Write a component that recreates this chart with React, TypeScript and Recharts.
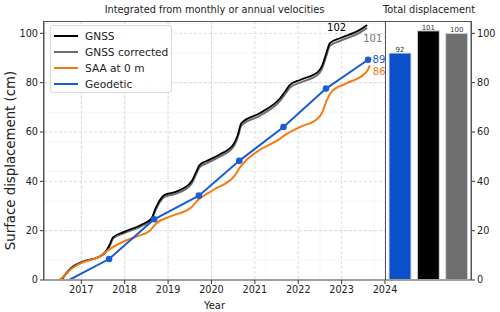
import React from 'react'
import { LineChart, Line, XAxis, YAxis, CartesianGrid, BarChart, Bar, Cell, LabelList } from 'recharts'

const FONT = '"DejaVu Sans", sans-serif'

const gnssYears = [2016.54, 2016.65, 2016.77, 2017.04, 2017.42, 2017.56, 2017.66, 2017.73, 2018.0, 2018.42, 2018.62, 2018.7, 2018.77, 2018.92, 2019.19, 2019.54, 2019.64, 2019.73, 2019.92, 2020.2, 2020.5, 2020.6, 2020.69, 2021.11, 2021.58, 2021.7, 2021.81, 2022.04, 2022.46, 2022.54, 2022.64, 2022.73, 2022.96, 2023.42, 2023.59]
const gnssValues = [0, 2.5, 4.7, 7.4, 9.5, 11.5, 14.5, 17.3, 19.6, 22.7, 25, 28.5, 31.1, 34.5, 35.8, 39.9, 43.5, 46.7, 48.5, 51, 54.8, 58.5, 63.6, 67.6, 73.7, 76.5, 79.1, 81.1, 84.5, 86.5, 91.5, 96, 98, 101.4, 103.4]
const gnssCorrValues = [0, 2.8, 5.1, 7.5, 9.5, 11.3, 14.1, 16.8, 19.1, 22.1, 24.4, 27.8, 30.4, 33.7, 35.0, 39.0, 42.6, 45.8, 47.6, 50.1, 53.8, 57.5, 62.6, 66.5, 72.6, 75.4, 78, 80, 83.4, 85.4, 90.4, 94.9, 96.9, 100.3, 102.2]

const saaYears = [2016.48, 2016.6, 2016.7, 2016.85, 2017.04, 2017.42, 2017.65, 2018.0, 2018.3, 2018.58, 2018.73, 2019.04, 2019.54, 2019.65, 2020.04, 2020.54, 2020.65, 2020.77, 2021.11, 2021.54, 2021.7, 2022.04, 2022.45, 2022.54, 2022.65, 2022.77, 2023.12, 2023.5, 2023.6, 2023.65]
const saaValues = [0, 1.5, 3.5, 5.5, 7.2, 9.5, 12.5, 15.8, 17.8, 20, 23, 25.7, 29.5, 31.8, 36.5, 42.4, 45.5, 48, 52.7, 56.8, 58.8, 62, 65.5, 67.5, 72.5, 76.4, 79.8, 83.2, 85, 87]

const geoYears = [2016.72, 2017.64, 2018.68, 2019.71, 2020.64, 2021.66, 2022.64, 2023.61]
const geoValues = [0, 8.5, 24.6, 34.2, 48.3, 62.0, 77.6, 89.3]

const yearTicks = [2017, 2018, 2019, 2020, 2021, 2022, 2023, 2024]
const valueTicks = [0, 20, 40, 60, 80, 100]

const seriesNames = ['GNSS', 'GNSS corrected', 'SAA at 0 m', 'Geodetic']
const seriesColors = ['#000000', '#6e6e6e', '#f47a12', '#1a5cd6']
const endLabels = ['102', '101', '86', '89']

const totalNames = ['Geodetic', 'GNSS', 'GNSS corrected']
const totalValues = [92, 101, 100]
const totalColors = ['#0b4fcb', '#000000', '#6e6e6e']

const toPoints = (xs: number[], ys: number[]) => xs.map((x, i) => ({ x, y: ys[i] }))
const gnssData = toPoints(gnssYears, gnssValues)
const gnssCorrData = toPoints(gnssYears, gnssCorrValues)
const saaData = toPoints(saaYears, saaValues)
const geoData = toPoints(geoYears, geoValues)
const totalData = totalNames.map((name, i) => ({ name, v: totalValues[i], color: totalColors[i] }))

const minorYears: number[] = []
for (let y = 2016.25; y < 2024; y += 0.25) minorYears.push(y)
const minorValues: number[] = []
for (let v = 4; v < 105; v += 4) minorValues.push(v)

const tickStyle = { fontSize: 9.7, fill: '#222', fontFamily: FONT }

// label only drawn next to the last point of a series
function endLabel(text: string, color: string, last: number, dx: number, dy: number, anchor: string) {
  return (props: any) => {
    if (props.index !== last) return <g key={props.index} />
    return (
      <text key={props.index} x={props.x + dx} y={props.y + dy} fill={color} fontSize={10} fontFamily={FONT} textAnchor={anchor}>
        {text}
      </text>
    )
  }
}

const geoDot = (props: any) => {
  if (props.index === 0) return <g key={props.index} />
  return <circle key={props.index} cx={props.cx} cy={props.cy} r={3.3} fill={seriesColors[3]} />
}

const yLabel = (props: any) => {
  const vb = props.viewBox
  const cy = vb.y + vb.height / 2 + 10
  return (
    <text x={10} y={cy} transform={`rotate(-90, 10, ${cy})`} textAnchor="middle" dominantBaseline="central" fontSize={13.3} fill="#222" fontFamily={FONT}>
      Surface displacement (cm)
    </text>
  )
}

const frame = { position: 'absolute' as const, top: 21, height: 258, borderTop: '1px solid #555', borderLeft: '1px solid #555', borderRight: '1px solid #555', pointerEvents: 'none' as const }

export default function App() {
  return (
    <div style={{ position: 'absolute', left: 0, top: 0, width: 500, height: 312, background: '#fff', fontFamily: FONT }}>
      <div style={{ position: 'absolute', left: 44, width: 341, top: 4, textAlign: 'center', fontSize: 9.8, color: '#222' }}>
        Integrated from monthly or annual velocities
      </div>
      <div style={{ position: 'absolute', left: 379, width: 100, top: 4, textAlign: 'center', fontSize: 9.8, color: '#222' }}>
        Total displacement
      </div>

      <div style={{ position: 'absolute', left: 0, top: 0 }}>
        <LineChart width={400} height={312} margin={{ top: 21, right: 15, bottom: 0, left: 0 }}>
          <CartesianGrid stroke="#eeeeee" strokeWidth={0.6} verticalValues={minorYears} horizontalValues={minorValues} />
          <CartesianGrid stroke="#d4d4d4" strokeDasharray="3 2" strokeWidth={0.8} verticalValues={yearTicks} horizontalValues={valueTicks} />
          <XAxis
            type="number"
            dataKey="x"
            domain={[2016.14, 2024]}
            ticks={yearTicks}
            allowDataOverflow
            height={32}
            tick={tickStyle}
            tickSize={4}
            tickMargin={2}
            tickLine={{ stroke: '#333' }}
            axisLine={{ stroke: '#a0a0a0', strokeWidth: 2 }}
            label={{ value: 'Year', position: 'insideBottom', offset: 3, fontSize: 10, fill: '#222', fontFamily: FONT }}
          />
          <YAxis
            type="number"
            domain={[0, 105]}
            ticks={valueTicks}
            allowDataOverflow
            width={44}
            tick={tickStyle}
            tickSize={4}
            tickMargin={2}
            tickLine={{ stroke: '#333' }}
            axisLine={{ stroke: '#555' }}
            label={{ content: yLabel }}
          />

          <Line data={gnssCorrData} dataKey="y" name={seriesNames[1]} type="monotone" stroke={seriesColors[1]} strokeWidth={2} dot={false} isAnimationActive={false}
            label={endLabel(endLabels[1], '#777', gnssCorrData.length - 1, -4, 14, 'start')} />
          <Line data={gnssData} dataKey="y" name={seriesNames[0]} type="monotone" stroke={seriesColors[0]} strokeWidth={1.8} dot={false} isAnimationActive={false}
            label={endLabel(endLabels[0], '#000', gnssData.length - 1, -21, 6, 'end')} />
          <Line data={saaData} dataKey="y" name={seriesNames[2]} type="monotone" stroke={seriesColors[2]} strokeWidth={2} dot={false} isAnimationActive={false}
            label={endLabel(endLabels[2], seriesColors[2], saaData.length - 1, 3, 10, 'start')} />
          <Line data={geoData} dataKey="y" name={seriesNames[3]} type="linear" stroke={seriesColors[3]} strokeWidth={2} dot={geoDot} isAnimationActive={false}
            label={endLabel(endLabels[3], seriesColors[3], geoData.length - 1, 4.5, 3.5, 'start')} />
        </LineChart>
      </div>
      <div style={{ ...frame, left: 43, width: 341 }} />

      <div style={{ position: 'absolute', left: 50, top: 25, width: 120, height: 66, border: '1px solid #d8d8d8', borderRadius: 3, background: 'rgba(255,255,255,0.9)', fontSize: 10.6, color: '#222' }}>
        {seriesNames.map((n, i) => (
          <div key={n} style={{ position: 'absolute', left: 3, top: 3 + i * 16, height: 14, display: 'flex', alignItems: 'center' }}>
            <span style={{ display: 'inline-block', width: 24, height: 2, background: seriesColors[i], marginRight: 7 }} />
            <span style={{ whiteSpace: 'nowrap' }}>{n}</span>
          </div>
        ))}
      </div>

      <div style={{ position: 'absolute', left: 385, top: 0 }}>
        <BarChart width={115} height={312} data={totalData} margin={{ top: 21, right: 0, bottom: 0, left: 0 }} barCategoryGap={0}>
          <XAxis dataKey="name" height={32} tick={false} tickLine={false} axisLine={{ stroke: '#a0a0a0', strokeWidth: 2 }} padding={{ left: 1, right: 0 }} />
          <YAxis
            orientation="right"
            type="number"
            domain={[0, 105]}
            ticks={valueTicks}
            width={29}
            tick={tickStyle}
            tickSize={4}
            tickMargin={2}
            tickLine={{ stroke: '#333' }}
            axisLine={{ stroke: '#555' }}
          />
          <Bar dataKey="v" barSize={22} stroke="#d6dbe4" strokeWidth={1} isAnimationActive={false}>
            {totalData.map((d) => (
              <Cell key={d.name} fill={d.color} />
            ))}
            <LabelList dataKey="v" position="top" offset={1} style={{ fontSize: 7, fill: '#333', fontFamily: FONT }} />
          </Bar>
        </BarChart>
      </div>
      <div style={{ ...frame, left: 385, width: 85 }} />
    </div>
  )
}
